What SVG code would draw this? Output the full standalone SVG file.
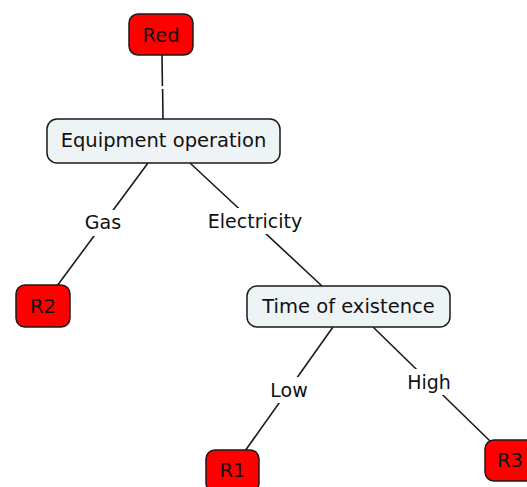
<svg xmlns="http://www.w3.org/2000/svg" width="527" height="487" viewBox="0 0 527 487">
<style>
.bg{fill:#ffffff}
.n rect{stroke:#1a1a1a;stroke-width:1.5}
.grey rect{fill:#eef3f6}
.red rect{fill:#ff0000}
text{font-family:"DejaVu Sans",Verdana,sans-serif;font-size:19.5px;fill:#111;text-anchor:middle;dominant-baseline:central}
.lbl{font-size:19px}
.c line{stroke:#1a1a1a;stroke-width:1.6}
</style>
<rect class="bg" x="0" y="0" width="527" height="487"/>
<g id="connectors" class="c">
<line x1="162" y1="55" x2="162.4" y2="86"/>
<line x1="162.6" y1="89" x2="163" y2="119"/>
<line x1="148" y1="163" x2="57" y2="286"/>
<line x1="190" y1="163" x2="322" y2="286"/>
<line x1="333" y1="327" x2="245" y2="451"/>
<line x1="373" y1="327" x2="490" y2="441"/>
</g>
<g id="labels">
<rect class="bg" x="82" y="210" width="44" height="26"/>
<text class="lbl" x="103" y="222">Gas</text>
<rect class="bg" x="205" y="208" width="100" height="26"/>
<text class="lbl" x="255" y="221">Electricity</text>
<rect class="bg" x="268" y="377" width="43" height="26"/>
<text class="lbl" x="289" y="390">Low</text>
<rect class="bg" x="404" y="369" width="50" height="26"/>
<text class="lbl" x="429" y="382">High</text>
</g>
<g id="node-red" class="n red">
<rect x="129" y="14" width="64" height="41" rx="9"/>
<text x="161" y="35">Red</text>
</g>
<g id="node-equipment" class="n grey">
<rect x="47" y="119" width="233" height="44" rx="10"/>
<text x="163.5" y="140">Equipment operation</text>
</g>
<g id="node-r2" class="n red">
<rect x="16" y="285" width="54" height="42" rx="9"/>
<text x="43" y="306">R2</text>
</g>
<g id="node-time" class="n grey">
<rect x="247" y="286" width="203" height="41" rx="10"/>
<text x="348.5" y="306">Time of existence</text>
</g>
<g id="node-r1" class="n red">
<rect x="206" y="450" width="53" height="42" rx="9"/>
<text x="232.5" y="470">R1</text>
</g>
<g id="node-r3" class="n red">
<rect x="485" y="440" width="54" height="41" rx="9"/>
<text x="510" y="460">R3</text>
</g>
</svg>
